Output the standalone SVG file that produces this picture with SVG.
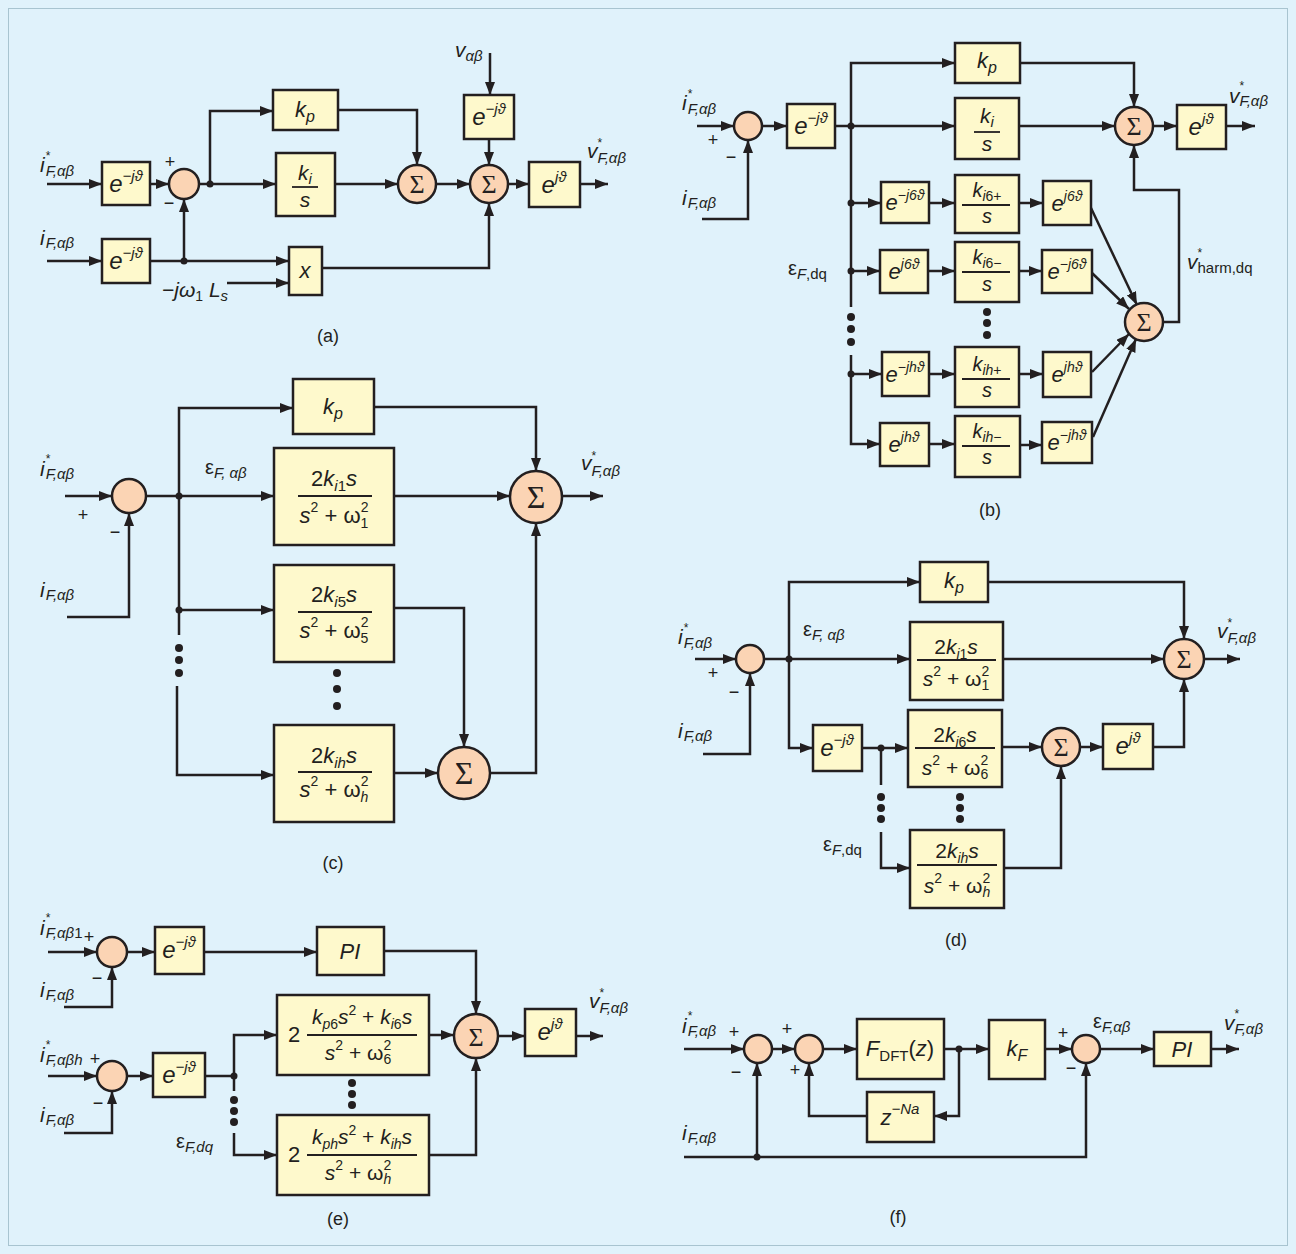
<svg xmlns="http://www.w3.org/2000/svg" width="1296" height="1254" viewBox="0 0 1296 1254">
<defs>
<marker id="ah" viewBox="0 0 13 10" refX="13" refY="5" markerWidth="13" markerHeight="10" markerUnits="userSpaceOnUse" orient="auto"><path d="M0,0 L13,5 L0,10 z" fill="#231F20"/></marker>
<style>
.bx{fill:#FEF9CC;stroke:#231F20;stroke-width:2.5}
.sm{fill:#FBD4B4;stroke:#231F20;stroke-width:2.5}
.c{fill:none;stroke:#231F20;stroke-width:2.5}
.a{fill:none;stroke:#231F20;stroke-width:2.5;marker-end:url(#ah)}
.d{fill:#231F20}
.br{stroke:#231F20;stroke-width:1.8}
text{font-family:"Liberation Sans",Arial,sans-serif;fill:#231F20}
.it{font-style:italic}
.up{font-style:normal}
.m{text-anchor:middle}
.sg{font-family:"Liberation Serif","Times New Roman",serif;font-size:26px;text-anchor:middle}
.sgb{font-family:"Liberation Serif","Times New Roman",serif;font-size:32px;text-anchor:middle}
.lb{font-size:18px;text-anchor:middle}
.pm{font-size:18px;text-anchor:middle}
.L{font-size:21px;font-style:italic}
.S{font-size:15px;font-style:italic}
.st{font-size:12px;font-style:normal}
</style>
</defs>
<rect x="0" y="0" width="1296" height="1254" fill="#E0F2FB"/>
<rect x="8.5" y="8.5" width="1279" height="1237" fill="none" stroke="#A8C4D0" stroke-width="1"/>

<!-- ================= (a) ================= -->
<g id="a-nodes">
<g id="a_e1"><rect class="bx" x="102" y="162" width="48" height="43"/><text class="it m" x="126" y="192" font-size="24">e<tspan font-size="15" dy="-11">−jϑ</tspan></text></g>
<g id="a_e2"><rect class="bx" x="102" y="239" width="48" height="44"/><text class="it m" x="126" y="269" font-size="24">e<tspan font-size="15" dy="-11">−jϑ</tspan></text></g>
<g id="a_sum"><circle class="sm" cx="184" cy="184" r="15"/></g>
<g id="a_kp"><rect class="bx" x="273" y="90" width="65" height="40"/><text class="it m" x="305" y="117" font-size="22">k<tspan font-size="16" dy="5">p</tspan></text></g>
<g id="a_ki"><rect class="bx" x="276" y="153" width="59" height="63"/><text class="it m" x="305" y="180" font-size="21">k<tspan font-size="15" dy="4">i</tspan></text><line class="br" x1="292" y1="187" x2="318" y2="187"/><text class="it m" x="305" y="207" font-size="21">s</text></g>
<g id="a_x"><rect class="bx" x="289" y="247" width="33" height="48"/><text class="it m" x="305" y="278" font-size="22">x</text></g>
<g id="a_sig1"><circle class="sm" cx="417" cy="184" r="19"/><text class="sg" x="417" y="193">Σ</text></g>
<g id="a_sig2"><circle class="sm" cx="489" cy="184" r="19"/><text class="sg" x="489" y="193">Σ</text></g>
<g id="a_e3"><rect class="bx" x="464" y="95" width="50" height="44"/><text class="it m" x="489" y="125" font-size="24">e<tspan font-size="15" dy="-11">−jϑ</tspan></text></g>
<g id="a_e4"><rect class="bx" x="529" y="162" width="51" height="45"/><text class="it m" x="554" y="193" font-size="24">e<tspan font-size="15" dy="-11">jϑ</tspan></text></g>
</g>
<g id="a-connectors">
<path class="a" d="M47,184 H102"/>
<path class="a" d="M150,184 H169"/>
<path class="a" d="M199,184 H276"/>
<path class="a" d="M210,184 V111 H273"/>
<circle class="d" cx="210" cy="184" r="3.5"/>
<path class="a" d="M47,261 H102"/>
<path class="a" d="M150,261 H289"/>
<circle class="d" cx="184" cy="261" r="3.5"/>
<path class="a" d="M184,261 V199"/>
<path class="a" d="M227,283 H289"/>
<path class="a" d="M338,110 H417 V165"/>
<path class="a" d="M335,184 H398"/>
<path class="a" d="M436,184 H470"/>
<path class="a" d="M490,53 V95"/>
<path class="a" d="M489,139 V165"/>
<path class="a" d="M508,184 H529"/>
<path class="a" d="M580,184 H608"/>
<path class="a" d="M322,268 H489 V203"/>
</g>
<g id="a-labels">
<text class="L" x="40" y="172">i<tspan class="st" dx="1" dy="-12">*</tspan><tspan class="S" dx="-4.7" dy="16">F,αβ</tspan></text>
<text class="L" x="40" y="245">i<tspan class="S" dx="1" dy="3">F,αβ</tspan></text>
<text class="pm" x="170" y="168">+</text><text class="pm" x="169" y="209">−</text>
<text class="L" x="162" y="297" font-size="20">−jω<tspan class="up" font-size="14" dy="4">1</tspan><tspan dy="-4"> L</tspan><tspan font-size="15" dy="4">s</tspan></text>
<text class="L" x="455" y="57">v<tspan class="S" dy="4">αβ</tspan></text>
<text class="L" x="587" y="158">v<tspan class="st" dy="-11">*</tspan><tspan class="S" dx="-4.7" dy="16">F,αβ</tspan></text>
<text class="lb" x="328" y="342">(a)</text>
</g>

<!-- ================= (b) ================= -->
<g id="b-nodes">
<g id="b_sum0"><circle class="sm" cx="748" cy="126" r="14"/></g>
<g id="b_e0"><rect class="bx" x="787" y="104" width="48" height="44"/><text class="it m" x="811" y="134" font-size="24">e<tspan font-size="15" dy="-11">−jϑ</tspan></text></g>
<g id="b_kp"><rect class="bx" x="955" y="43" width="65" height="40"/><text class="it m" x="987" y="68" font-size="22">k<tspan font-size="16" dy="5">p</tspan></text></g>
<g id="b_ki"><rect class="bx" x="955" y="98" width="64" height="61"/><text class="it m" x="987" y="123" font-size="21">k<tspan font-size="15" dy="4">i</tspan></text><line class="br" x1="974" y1="132" x2="1000" y2="132"/><text class="it m" x="987" y="151" font-size="21">s</text></g>
<g id="b_sig"><circle class="sm" cx="1134" cy="126" r="19"/><text class="sg" x="1134" y="135">Σ</text></g>
<g id="b_ej"><rect class="bx" x="1177" y="105" width="49" height="44"/><text class="it m" x="1201" y="135" font-size="24">e<tspan font-size="15" dy="-11">jϑ</tspan></text></g>
<g id="b_em6"><rect class="bx" x="881" y="182" width="48" height="41"/><text class="it m" x="905" y="210" font-size="22">e<tspan font-size="14" dy="-10">−j6ϑ</tspan></text></g>
<g id="b_ep6a"><rect class="bx" x="880" y="250" width="48" height="43"/><text class="it m" x="904" y="279" font-size="22">e<tspan font-size="14" dy="-10">j6ϑ</tspan></text></g>
<g id="b_emh"><rect class="bx" x="882" y="352" width="47" height="44"/><text class="it m" x="905" y="382" font-size="22">e<tspan font-size="14" dy="-10">−jhϑ</tspan></text></g>
<g id="b_eph"><rect class="bx" x="880" y="423" width="49" height="43"/><text class="it m" x="904" y="452" font-size="22">e<tspan font-size="14" dy="-10">jhϑ</tspan></text></g>
<g id="b_k6p"><rect class="bx" x="955" y="175" width="64" height="58"/><text class="it m" x="987" y="197" font-size="20">k<tspan font-size="14" dy="4">i</tspan><tspan class="up" font-size="14">6+</tspan></text><line class="br" x1="962" y1="205" x2="1010" y2="205"/><text class="it m" x="987" y="223" font-size="20">s</text></g>
<g id="b_k6m"><rect class="bx" x="955" y="242" width="64" height="60"/><text class="it m" x="987" y="264" font-size="20">k<tspan font-size="14" dy="4">i</tspan><tspan class="up" font-size="14">6−</tspan></text><line class="br" x1="962" y1="272" x2="1010" y2="272"/><text class="it m" x="987" y="291" font-size="20">s</text></g>
<g id="b_khp"><rect class="bx" x="955" y="347" width="64" height="60"/><text class="it m" x="987" y="371" font-size="20">k<tspan font-size="14" dy="4">ih</tspan><tspan class="up" font-size="14">+</tspan></text><line class="br" x1="962" y1="379" x2="1010" y2="379"/><text class="it m" x="987" y="397" font-size="20">s</text></g>
<g id="b_khm"><rect class="bx" x="955" y="416" width="65" height="61"/><text class="it m" x="987" y="438" font-size="20">k<tspan font-size="14" dy="4">ih</tspan><tspan class="up" font-size="14">−</tspan></text><line class="br" x1="962" y1="446" x2="1010" y2="446"/><text class="it m" x="987" y="464" font-size="20">s</text></g>
<g id="b_ep6"><rect class="bx" x="1043" y="181" width="48" height="44"/><text class="it m" x="1067" y="211" font-size="22">e<tspan font-size="14" dy="-10">j6ϑ</tspan></text></g>
<g id="b_em6b"><rect class="bx" x="1042" y="250" width="50" height="43"/><text class="it m" x="1067" y="279" font-size="22">e<tspan font-size="14" dy="-10">−j6ϑ</tspan></text></g>
<g id="b_ephb"><rect class="bx" x="1043" y="352" width="48" height="45"/><text class="it m" x="1067" y="382" font-size="22">e<tspan font-size="14" dy="-10">jhϑ</tspan></text></g>
<g id="b_emhb"><rect class="bx" x="1042" y="422" width="50" height="41"/><text class="it m" x="1067" y="450" font-size="22">e<tspan font-size="14" dy="-10">−jhϑ</tspan></text></g>
<g id="b_sh"><circle class="sm" cx="1144" cy="322" r="19"/><text class="sg" x="1144" y="331">Σ</text></g>
</g>
<g id="b-connectors">
<path class="a" d="M697,126 H734"/>
<path class="a" d="M702,219 H748 V140"/>
<path class="a" d="M762,126 H787"/>
<path class="a" d="M835,126 H955"/>
<path class="a" d="M851,307 V63 H955"/>
<path class="a" d="M851,203 H881"/>
<path class="a" d="M851,271 H880"/>
<path class="a" d="M851,355 V444 H880"/>
<path class="a" d="M851,374 H882"/>
<circle class="d" cx="851" cy="126" r="3.5"/><circle class="d" cx="851" cy="203" r="3.5"/><circle class="d" cx="851" cy="271" r="3.5"/><circle class="d" cx="851" cy="374" r="3.5"/>
<circle class="d" cx="851" cy="317" r="4"/><circle class="d" cx="851" cy="329" r="4"/><circle class="d" cx="851" cy="342" r="4"/>
<circle class="d" cx="987" cy="312" r="4"/><circle class="d" cx="987" cy="323" r="4"/><circle class="d" cx="987" cy="335" r="4"/>
<path class="a" d="M929,203 H955"/>
<path class="a" d="M928,271 H955"/>
<path class="a" d="M929,374 H955"/>
<path class="a" d="M929,444 H955"/>
<path class="a" d="M1019,203 H1043"/>
<path class="a" d="M1019,271 H1042"/>
<path class="a" d="M1019,374 H1043"/>
<path class="a" d="M1020,445 H1042"/>
<path class="a" d="M1020,63 H1134 V107"/>
<path class="a" d="M1019,126 H1115"/>
<path class="a" d="M1153,126 H1177"/>
<path class="a" d="M1226,126 H1255"/>
<path class="a" d="M1163,322 H1179 V190 H1134 V145"/>
<path class="a" d="M1091,208 L1137,305"/>
<path class="a" d="M1092,273 L1129,309"/>
<path class="a" d="M1092,372 L1129,334"/>
<path class="a" d="M1093,437 L1136,339"/>
</g>
<g id="b-labels">
<text class="L" x="682" y="110">i<tspan class="st" dx="1" dy="-12">*</tspan><tspan class="S" dx="-4.7" dy="16">F,αβ</tspan></text>
<text class="pm" x="713" y="146">+</text><text class="pm" x="731" y="163">−</text>
<text class="L" x="682" y="205">i<tspan class="S" dx="1" dy="3">F,αβ</tspan></text>
<text x="788" y="275" font-size="20">ε<tspan font-size="15" dy="4"><tspan class="it">F</tspan>,dq</tspan></text>
<text class="L" x="1229" y="103">v<tspan class="st" dy="-13">*</tspan><tspan class="S" dx="-4.7" dy="16">F,αβ</tspan></text>
<text class="L" x="1187" y="269">v<tspan class="st" dy="-12">*</tspan><tspan class="up" font-size="15" dx="-4.7" dy="16">harm,dq</tspan></text>
<text class="lb" x="990" y="516">(b)</text>
</g>

<!-- ================= (c) ================= -->
<g id="c-nodes">
<g id="c_sum0"><circle class="sm" cx="129" cy="496" r="17"/></g>
<g id="c_kp"><rect class="bx" x="293" y="379" width="81" height="55"/><text class="it m" x="333" y="414" font-size="22">k<tspan font-size="16" dy="5">p</tspan></text></g>
<g id="c_b1"><rect class="bx" x="274" y="448" width="120" height="97"/>
<text class="m" x="334" y="486" font-size="22">2<tspan class="it">k</tspan><tspan class="it" font-size="15" dy="5">i</tspan><tspan font-size="15">1</tspan><tspan class="it" dy="-5">s</tspan></text>
<line class="br" x1="298" y1="496" x2="372" y2="496"/>
<text class="m" x="334" y="523" font-size="22"><tspan class="it">s</tspan><tspan font-size="14" dy="-11">2</tspan><tspan dy="11"> + ω</tspan><tspan font-size="14" dy="-11">2</tspan><tspan font-size="14" dx="-7.8" dy="16">1</tspan></text></g>
<g id="c_b5"><rect class="bx" x="274" y="565" width="120" height="97"/>
<text class="m" x="334" y="602" font-size="22">2<tspan class="it">k</tspan><tspan class="it" font-size="15" dy="5">i</tspan><tspan font-size="15">5</tspan><tspan class="it" dy="-5">s</tspan></text>
<line class="br" x1="298" y1="612" x2="372" y2="612"/>
<text class="m" x="334" y="638" font-size="22"><tspan class="it">s</tspan><tspan font-size="14" dy="-11">2</tspan><tspan dy="11"> + ω</tspan><tspan font-size="14" dy="-11">2</tspan><tspan font-size="14" dx="-7.8" dy="16">5</tspan></text></g>
<g id="c_bh"><rect class="bx" x="274" y="725" width="120" height="97"/>
<text class="m" x="334" y="763" font-size="22">2<tspan class="it">k</tspan><tspan class="it" font-size="15" dy="5">ih</tspan><tspan class="it" dy="-5">s</tspan></text>
<line class="br" x1="298" y1="772" x2="372" y2="772"/>
<text class="m" x="334" y="797" font-size="22"><tspan class="it">s</tspan><tspan font-size="14" dy="-11">2</tspan><tspan dy="11"> + ω</tspan><tspan font-size="14" dy="-11">2</tspan><tspan class="it" font-size="14" dx="-7.8" dy="16">h</tspan></text></g>
<g id="c_sig"><circle class="sm" cx="536" cy="497" r="26"/><text class="sgb" x="536" y="508">Σ</text></g>
<g id="c_sig2"><circle class="sm" cx="464" cy="773" r="26"/><text class="sgb" x="464" y="784">Σ</text></g>
</g>
<g id="c-connectors">
<path class="a" d="M65,496 H112"/>
<path class="a" d="M67,617 H129 V513"/>
<path class="a" d="M146,496 H274"/>
<path class="a" d="M179,635 V408 H293"/>
<path class="a" d="M179,610 H274"/>
<circle class="d" cx="179" cy="496" r="3.5"/><circle class="d" cx="179" cy="610" r="3.5"/>
<circle class="d" cx="179" cy="648" r="4"/><circle class="d" cx="179" cy="660" r="4"/><circle class="d" cx="179" cy="673" r="4"/>
<path class="a" d="M177,686 V775 H274"/>
<circle class="d" cx="337" cy="673" r="4"/><circle class="d" cx="337" cy="689" r="4"/><circle class="d" cx="337" cy="706" r="4"/>
<path class="a" d="M374,407 H536 V471"/>
<path class="a" d="M394,496 H510"/>
<path class="a" d="M562,496 H603"/>
<path class="a" d="M394,608 H464 V747"/>
<path class="a" d="M394,773 H438"/>
<path class="a" d="M490,773 H536 V523"/>
</g>
<g id="c-labels">
<text class="L" x="40" y="476">i<tspan class="st" dx="1" dy="-13">*</tspan><tspan class="S" dx="-4.7" dy="16">F,αβ</tspan></text>
<text class="pm" x="83" y="521">+</text><text class="pm" x="115" y="538">−</text>
<text class="L" x="40" y="597">i<tspan class="S" dx="1" dy="3">F,αβ</tspan></text>
<text x="205" y="474" font-size="20">ε<tspan class="it" font-size="15" dy="4">F, αβ</tspan></text>
<text class="L" x="581" y="470">v<tspan class="st" dy="-10">*</tspan><tspan class="S" dx="-4.7" dy="16">F,αβ</tspan></text>
<text class="lb" x="333" y="869">(c)</text>
</g>

<!-- ================= (d) ================= -->
<g id="d-nodes">
<g id="d_sum0"><circle class="sm" cx="750" cy="659" r="14"/></g>
<g id="d_kp"><rect class="bx" x="920" y="562" width="68" height="40"/><text class="it m" x="954" y="588" font-size="22">k<tspan font-size="16" dy="5">p</tspan></text></g>
<g id="d_b1"><rect class="bx" x="910" y="622" width="93" height="78"/>
<text class="m" x="956" y="654" font-size="21">2<tspan class="it">k</tspan><tspan class="it" font-size="14" dy="5">i</tspan><tspan font-size="14">1</tspan><tspan class="it" dy="-5">s</tspan></text>
<line class="br" x1="917" y1="660" x2="996" y2="660"/>
<text class="m" x="956" y="686" font-size="21"><tspan class="it">s</tspan><tspan font-size="14" dy="-10">2</tspan><tspan dy="10"> + ω</tspan><tspan font-size="14" dy="-10">2</tspan><tspan font-size="14" dx="-7.8" dy="14">1</tspan></text></g>
<g id="d_e"><rect class="bx" x="813" y="725" width="49" height="46"/><text class="it m" x="837" y="756" font-size="24">e<tspan font-size="15" dy="-11">−jϑ</tspan></text></g>
<g id="d_b6"><rect class="bx" x="908" y="710" width="94" height="77"/>
<text class="m" x="955" y="742" font-size="21">2<tspan class="it">k</tspan><tspan class="it" font-size="14" dy="5">i</tspan><tspan font-size="14">6</tspan><tspan class="it" dy="-5">s</tspan></text>
<line class="br" x1="915" y1="748" x2="995" y2="748"/>
<text class="m" x="955" y="775" font-size="21"><tspan class="it">s</tspan><tspan font-size="14" dy="-10">2</tspan><tspan dy="10"> + ω</tspan><tspan font-size="14" dy="-10">2</tspan><tspan font-size="14" dx="-7.8" dy="14">6</tspan></text></g>
<g id="d_bh"><rect class="bx" x="910" y="830" width="94" height="78"/>
<text class="m" x="957" y="858" font-size="21">2<tspan class="it">k</tspan><tspan class="it" font-size="14" dy="5">ih</tspan><tspan class="it" dy="-5">s</tspan></text>
<line class="br" x1="917" y1="865" x2="997" y2="865"/>
<text class="m" x="957" y="893" font-size="21"><tspan class="it">s</tspan><tspan font-size="14" dy="-10">2</tspan><tspan dy="10"> + ω</tspan><tspan font-size="14" dy="-10">2</tspan><tspan class="it" font-size="14" dx="-7.8" dy="14">h</tspan></text></g>
<g id="d_sig"><circle class="sm" cx="1184" cy="659" r="20"/><text class="sg" x="1184" y="668">Σ</text></g>
<g id="d_s2"><circle class="sm" cx="1061" cy="747" r="19"/><text class="sg" x="1061" y="756">Σ</text></g>
<g id="d_ej"><rect class="bx" x="1103" y="724" width="50" height="45"/><text class="it m" x="1128" y="754" font-size="24">e<tspan font-size="15" dy="-11">jϑ</tspan></text></g>
</g>
<g id="d-connectors">
<path class="a" d="M695,659 H736"/>
<path class="a" d="M703,754 H750 V673"/>
<path class="a" d="M764,659 H910"/>
<path class="a" d="M789,659 V582 H920"/>
<path class="a" d="M789,659 V748 H813"/>
<circle class="d" cx="789" cy="659" r="3.5"/>
<path class="a" d="M862,748 H908"/>
<circle class="d" cx="881" cy="748" r="3.5"/>
<path class="c" d="M881,748 V785"/>
<circle class="d" cx="881" cy="797" r="4"/><circle class="d" cx="881" cy="808" r="4"/><circle class="d" cx="881" cy="819" r="4"/>
<path class="a" d="M881,832 V868 H910"/>
<circle class="d" cx="960" cy="797" r="4"/><circle class="d" cx="960" cy="808" r="4"/><circle class="d" cx="960" cy="819" r="4"/>
<path class="a" d="M988,582 H1184 V639"/>
<path class="a" d="M1003,659 H1164"/>
<path class="a" d="M1204,659 H1240"/>
<path class="a" d="M1002,747 H1042"/>
<path class="a" d="M1080,747 H1103"/>
<path class="a" d="M1153,747 H1184 V679"/>
<path class="a" d="M1004,868 H1061 V766"/>
</g>
<g id="d-labels">
<text class="L" x="678" y="644">i<tspan class="st" dx="1" dy="-12">*</tspan><tspan class="S" dx="-4.7" dy="16">F,αβ</tspan></text>
<text class="pm" x="713" y="679">+</text><text class="pm" x="734" y="698">−</text>
<text class="L" x="678" y="738">i<tspan class="S" dx="1" dy="3">F,αβ</tspan></text>
<text x="803" y="636" font-size="20">ε<tspan class="it" font-size="15" dy="4">F, αβ</tspan></text>
<text x="823" y="851" font-size="20">ε<tspan font-size="15" dy="4"><tspan class="it">F</tspan>,dq</tspan></text>
<text class="L" x="1217" y="638">v<tspan class="st" dy="-11">*</tspan><tspan class="S" dx="-4.7" dy="16">F,αβ</tspan></text>
<text class="lb" x="956" y="946">(d)</text>
</g>

<!-- ================= (e) ================= -->
<g id="e-nodes">
<g id="e_s1"><circle class="sm" cx="112" cy="952" r="15"/></g>
<g id="e_e1"><rect class="bx" x="155" y="927" width="49" height="47"/><text class="it m" x="179" y="958" font-size="24">e<tspan font-size="15" dy="-11">−jϑ</tspan></text></g>
<g id="e_pi"><rect class="bx" x="317" y="927" width="67" height="48"/><text class="it m" x="350" y="959" font-size="22">PI</text></g>
<g id="e_s2"><circle class="sm" cx="112" cy="1076" r="15"/></g>
<g id="e_e2"><rect class="bx" x="153" y="1053" width="52" height="44"/><text class="it m" x="179" y="1083" font-size="24">e<tspan font-size="15" dy="-11">−jϑ</tspan></text></g>
<g id="e_b6"><rect class="bx" x="277" y="995" width="152" height="80"/>
<text x="288" y="1042" font-size="22">2</text>
<text class="m" x="362" y="1024" font-size="21"><tspan class="it">k</tspan><tspan class="it" font-size="14" dy="5">p</tspan><tspan font-size="14">6</tspan><tspan class="it" dy="-5">s</tspan><tspan font-size="14" dy="-9">2</tspan><tspan dy="9"> + </tspan><tspan class="it">k</tspan><tspan class="it" font-size="14" dy="5">i</tspan><tspan font-size="14">6</tspan><tspan class="it" dy="-5">s</tspan></text>
<line class="br" x1="307" y1="1035" x2="417" y2="1035"/>
<text class="m" x="358" y="1060" font-size="21"><tspan class="it">s</tspan><tspan font-size="14" dy="-10">2</tspan><tspan dy="10"> + ω</tspan><tspan font-size="14" dy="-10">2</tspan><tspan font-size="14" dx="-7.8" dy="14">6</tspan></text></g>
<g id="e_bh"><rect class="bx" x="277" y="1115" width="152" height="80"/>
<text x="288" y="1162" font-size="22">2</text>
<text class="m" x="362" y="1144" font-size="21"><tspan class="it">k</tspan><tspan class="it" font-size="14" dy="5">ph</tspan><tspan class="it" dy="-5">s</tspan><tspan font-size="14" dy="-9">2</tspan><tspan dy="9"> + </tspan><tspan class="it">k</tspan><tspan class="it" font-size="14" dy="5">ih</tspan><tspan class="it" dy="-5">s</tspan></text>
<line class="br" x1="307" y1="1155" x2="417" y2="1155"/>
<text class="m" x="358" y="1180" font-size="21"><tspan class="it">s</tspan><tspan font-size="14" dy="-10">2</tspan><tspan dy="10"> + ω</tspan><tspan font-size="14" dy="-10">2</tspan><tspan class="it" font-size="14" dx="-7.8" dy="14">h</tspan></text></g>
<g id="e_sig"><circle class="sm" cx="476" cy="1036" r="22"/><text class="sg" x="476" y="1046">Σ</text></g>
<g id="e_ej"><rect class="bx" x="525" y="1009" width="51" height="47"/><text class="it m" x="550" y="1040" font-size="24">e<tspan font-size="15" dy="-11">jϑ</tspan></text></g>
</g>
<g id="e-connectors">
<path class="a" d="M48,952 H97"/>
<path class="a" d="M64,1007 H112 V967"/>
<path class="a" d="M127,952 H155"/>
<path class="a" d="M204,952 H317"/>
<path class="a" d="M384,951 H476 V1014"/>
<path class="a" d="M48,1076 H97"/>
<path class="a" d="M64,1133 H112 V1091"/>
<path class="a" d="M127,1076 H153"/>
<path class="a" d="M205,1076 H234 V1035 H277"/>
<circle class="d" cx="234" cy="1076" r="3.5"/>
<path class="c" d="M234,1076 V1091"/>
<circle class="d" cx="234" cy="1100" r="4"/><circle class="d" cx="234" cy="1111" r="4"/><circle class="d" cx="234" cy="1122" r="4"/>
<path class="a" d="M234,1133 V1155 H277"/>
<circle class="d" cx="352" cy="1083" r="4"/><circle class="d" cx="352" cy="1094" r="4"/><circle class="d" cx="352" cy="1105" r="4"/>
<path class="a" d="M429,1035 H454"/>
<path class="a" d="M429,1155 H476 V1058"/>
<path class="a" d="M498,1036 H525"/>
<path class="a" d="M576,1036 H603"/>
</g>
<g id="e-labels">
<text class="L" x="40" y="935">i<tspan class="st" dx="1" dy="-13">*</tspan><tspan class="S" dx="-4.7" dy="16">F,αβ<tspan class="up">1</tspan></tspan></text>
<text class="pm" x="89" y="943">+</text><text class="pm" x="97" y="984">−</text>
<text class="L" x="40" y="997">i<tspan class="S" dx="1" dy="3">F,αβ</tspan></text>
<text class="L" x="40" y="1062">i<tspan class="st" dx="1" dy="-13">*</tspan><tspan class="S" dx="-4.7" dy="16">F,αβh</tspan></text>
<text class="pm" x="95" y="1065">+</text><text class="pm" x="98" y="1109">−</text>
<text class="L" x="40" y="1122">i<tspan class="S" dx="1" dy="3">F,αβ</tspan></text>
<text x="176" y="1148" font-size="20">ε<tspan class="it" font-size="15" dy="4">F,dq</tspan></text>
<text class="L" x="589" y="1008">v<tspan class="st" dy="-11">*</tspan><tspan class="S" dx="-4.7" dy="16">F,αβ</tspan></text>
<text class="lb" x="338" y="1225">(e)</text>
</g>

<!-- ================= (f) ================= -->
<g id="f-nodes">
<g id="f_s1"><circle class="sm" cx="758" cy="1049" r="14"/></g>
<g id="f_s2"><circle class="sm" cx="809" cy="1049" r="14"/></g>
<g id="f_dft"><rect class="bx" x="857" y="1019" width="87" height="60"/><text class="m" x="900" y="1056" font-size="22"><tspan class="it">F</tspan><tspan font-size="15" dy="5">DFT</tspan><tspan dy="-5">(</tspan><tspan class="it">z</tspan>)</text></g>
<g id="f_kf"><rect class="bx" x="989" y="1020" width="56" height="59"/><text class="it m" x="1017" y="1056" font-size="22">k<tspan font-size="16" dy="5">F</tspan></text></g>
<g id="f_z"><rect class="bx" x="867" y="1092" width="67" height="50"/><text class="it m" x="900" y="1125" font-size="22">z<tspan font-size="15" dy="-11">−Na</tspan></text></g>
<g id="f_s3"><circle class="sm" cx="1086" cy="1049" r="14"/></g>
<g id="f_pi"><rect class="bx" x="1154" y="1032" width="57" height="34"/><text class="it m" x="1182" y="1057" font-size="22">PI</text></g>
</g>
<g id="f-connectors">
<path class="a" d="M684,1049 H744"/>
<path class="a" d="M684,1157 H1086 V1063"/>
<circle class="d" cx="757" cy="1157" r="3.5"/>
<path class="a" d="M757,1157 V1063"/>
<path class="a" d="M772,1049 H795"/>
<path class="a" d="M823,1049 H857"/>
<path class="a" d="M944,1049 H989"/>
<circle class="d" cx="959" cy="1049" r="3.5"/>
<path class="a" d="M959,1049 V1116 H934"/>
<path class="a" d="M867,1116 H809 V1063"/>
<path class="a" d="M1045,1049 H1072"/>
<path class="a" d="M1100,1049 H1154"/>
<path class="a" d="M1211,1049 H1239"/>
</g>
<g id="f-labels">
<text class="L" x="682" y="1033">i<tspan class="st" dx="1" dy="-13">*</tspan><tspan class="S" dx="-4.7" dy="16">F,αβ</tspan></text>
<text class="pm" x="734" y="1038">+</text><text class="pm" x="736" y="1078">−</text>
<text class="pm" x="787" y="1035">+</text><text class="pm" x="795" y="1076">+</text>
<text class="pm" x="1063" y="1039">+</text><text class="pm" x="1071" y="1074">−</text>
<text x="1093" y="1028" font-size="20">ε<tspan class="it" font-size="15" dy="4">F,αβ</tspan></text>
<text class="L" x="1224" y="1030">v<tspan class="st" dy="-12">*</tspan><tspan class="S" dx="-4.7" dy="16">F,αβ</tspan></text>
<text class="L" x="682" y="1140">i<tspan class="S" dx="1" dy="3">F,αβ</tspan></text>
<text class="lb" x="898" y="1223">(f)</text>
</g>
</svg>
